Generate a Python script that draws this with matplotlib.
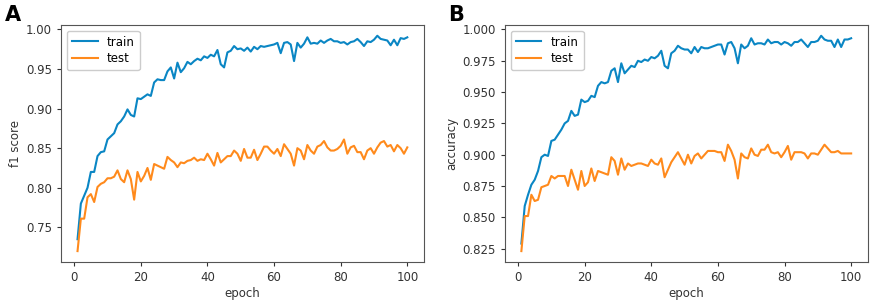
import matplotlib
matplotlib.use('Agg')
import matplotlib.pyplot as plt

epochs = list(range(1, 101))

train_f1 = [
    0.735, 0.780, 0.790, 0.800, 0.820, 0.820, 0.840, 0.845, 0.846, 0.861,
    0.865, 0.869, 0.880, 0.884, 0.890, 0.899, 0.892, 0.890, 0.913, 0.912,
    0.915, 0.918, 0.916, 0.933, 0.937, 0.936, 0.936, 0.947, 0.952, 0.938,
    0.958, 0.946, 0.951, 0.959, 0.956, 0.960, 0.963, 0.961, 0.966, 0.964,
    0.968, 0.966, 0.974, 0.956, 0.952, 0.971, 0.973, 0.979, 0.975, 0.976,
    0.973, 0.977, 0.972, 0.978, 0.975, 0.979, 0.978, 0.979, 0.980, 0.981,
    0.983, 0.970, 0.983, 0.984, 0.981, 0.960, 0.983, 0.977, 0.982, 0.990,
    0.982, 0.983, 0.982, 0.986, 0.983, 0.986, 0.988, 0.985, 0.985, 0.983,
    0.984, 0.981, 0.984, 0.985, 0.988, 0.984, 0.979, 0.985, 0.984, 0.987,
    0.992, 0.988, 0.987, 0.986, 0.980, 0.987, 0.980, 0.989, 0.988, 0.990,
]
test_f1 = [
    0.720, 0.761, 0.761, 0.788, 0.792, 0.782, 0.801, 0.805, 0.807, 0.812,
    0.812, 0.814, 0.822, 0.811, 0.807, 0.822, 0.811, 0.785, 0.820, 0.808,
    0.815, 0.825, 0.810, 0.830, 0.828, 0.826, 0.824, 0.839, 0.835, 0.832,
    0.826, 0.832, 0.831, 0.834, 0.835, 0.838, 0.834, 0.836, 0.835, 0.843,
    0.836, 0.828, 0.844, 0.832, 0.836, 0.840, 0.840, 0.847, 0.843, 0.834,
    0.849, 0.838, 0.838, 0.848, 0.835, 0.843, 0.852, 0.852, 0.847, 0.843,
    0.849, 0.840, 0.855, 0.849, 0.843, 0.828, 0.850, 0.847, 0.836, 0.854,
    0.847, 0.843, 0.852, 0.854, 0.859, 0.851, 0.847, 0.847, 0.849, 0.853,
    0.861, 0.843, 0.851, 0.853, 0.845, 0.845, 0.836, 0.847, 0.850, 0.843,
    0.851, 0.857, 0.859, 0.852, 0.854, 0.846, 0.854, 0.850, 0.843, 0.851,
]
train_acc = [
    0.829, 0.859, 0.868, 0.876, 0.880, 0.887, 0.898, 0.900, 0.899, 0.911,
    0.912, 0.916, 0.920, 0.925, 0.927, 0.935, 0.931, 0.932, 0.944, 0.942,
    0.943, 0.947, 0.946, 0.955, 0.958, 0.957, 0.958, 0.967, 0.969, 0.958,
    0.973, 0.965, 0.968, 0.971, 0.970, 0.975, 0.974, 0.976, 0.975, 0.978,
    0.977, 0.979, 0.983, 0.971, 0.969, 0.981, 0.983, 0.987, 0.985, 0.984,
    0.984, 0.981, 0.986, 0.982, 0.986, 0.985, 0.985, 0.986, 0.987, 0.988,
    0.988, 0.980, 0.989, 0.990, 0.985, 0.973, 0.988, 0.985, 0.987, 0.993,
    0.988, 0.989, 0.989, 0.988, 0.992, 0.989, 0.990, 0.990, 0.988, 0.990,
    0.989, 0.987, 0.990, 0.990, 0.992, 0.989, 0.986, 0.990, 0.990, 0.991,
    0.995, 0.992, 0.991, 0.991, 0.986, 0.992, 0.986, 0.992, 0.992, 0.993,
]
test_acc = [
    0.823, 0.851, 0.851, 0.868, 0.863, 0.864, 0.874, 0.875, 0.876, 0.883,
    0.881, 0.883, 0.883, 0.883, 0.875, 0.888, 0.880, 0.872, 0.887, 0.875,
    0.878, 0.889, 0.879, 0.887, 0.886, 0.885, 0.884, 0.898, 0.895, 0.884,
    0.897, 0.888, 0.893, 0.891, 0.892, 0.893, 0.893, 0.892, 0.891, 0.896,
    0.893, 0.892, 0.897, 0.882, 0.888, 0.894, 0.898, 0.902, 0.897, 0.892,
    0.900, 0.893, 0.899, 0.901, 0.897, 0.900, 0.903, 0.903, 0.903, 0.902,
    0.902, 0.895, 0.908, 0.903, 0.896, 0.881, 0.901, 0.898, 0.897, 0.905,
    0.900, 0.899, 0.904, 0.904, 0.908, 0.902, 0.901, 0.902, 0.898, 0.902,
    0.907, 0.896, 0.902, 0.902, 0.902, 0.901, 0.897, 0.901, 0.901, 0.900,
    0.904, 0.908, 0.905, 0.902, 0.902, 0.903, 0.901, 0.901, 0.901, 0.901,
]

BLUE = '#0a86c4'
ORANGE = '#ff8a1c'

fig = plt.figure(figsize=(8.72, 3.01), dpi=100)
axA = fig.add_axes([0.070, 0.130, 0.416, 0.787])
axB = fig.add_axes([0.579, 0.130, 0.416, 0.787])

panels = [
    (axA, train_f1, test_f1, 'f1 score', 'A', 0.006, [0.75, 0.80, 0.85, 0.90, 0.95, 1.00], '{:.2f}'),
    (axB, train_acc, test_acc, 'accuracy', 'B', 0.514, [0.825, 0.850, 0.875, 0.900, 0.925, 0.950, 0.975, 1.000], '{:.3f}'),
]

for ax, tr, te, ylab, letter, lx, yt, fmt in panels:
    ax.plot(epochs, tr, color=BLUE, lw=1.5, label='train')
    ax.plot(epochs, te, color=ORANGE, lw=1.5, label='test')
    ax.set_xticks([0, 20, 40, 60, 80, 100])
    ax.set_yticks(yt)
    ax.set_yticklabels([fmt.format(v) for v in yt])
    ax.tick_params(labelsize=8.5, colors='#333333', length=3)
    ax.set_xlabel('epoch', fontsize=8.5, color='#333333', labelpad=2)
    ax.set_ylabel(ylab, fontsize=8.5, color='#333333', labelpad=3)
    for s in ax.spines.values():
        s.set_color('#555555')
    ax.legend(loc='upper left', fontsize=8.5, handlelength=2.2, borderpad=0.4,
              labelspacing=0.3, framealpha=1)
    fig.text(lx, 0.985, letter, ha='left', va='top', fontsize=15, fontweight='bold')

fig.savefig('out.png', dpi=100, facecolor='white')
plt.close()
